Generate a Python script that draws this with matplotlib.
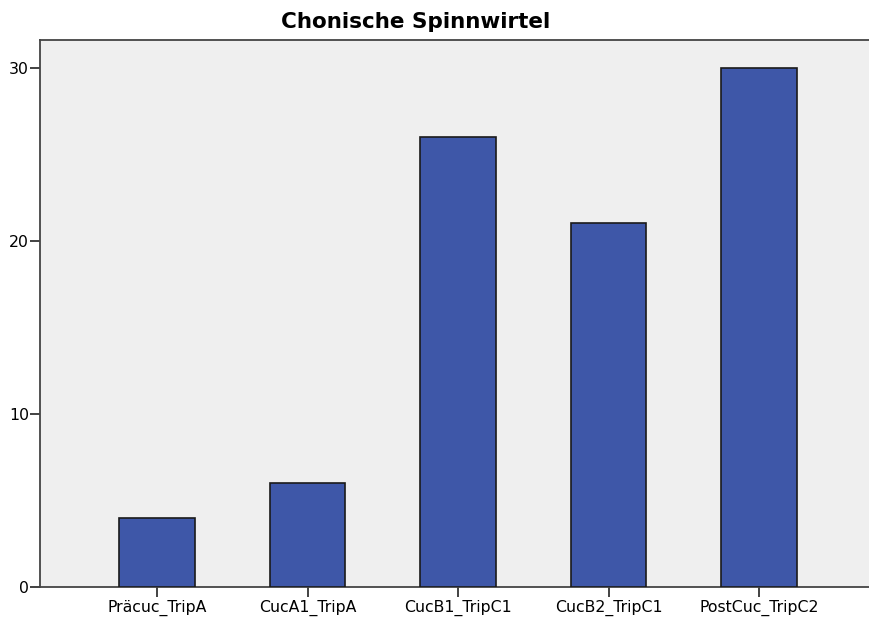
import matplotlib.pyplot as plt
import numpy as np

plt.rcParams['font.family'] = ['DejaVu Sans']

categories = ['Präcuc_TripA', 'CucA1_TripA', 'CucB1_TripC1', 'CucB2_TripC1', 'PostCuc_TripC2']
counts = [4, 6, 26, 21, 30]
y_ticks = [0, 10, 20, 30]

fig = plt.figure(figsize=(8.69, 6.18), dpi=100)
ax = fig.add_axes([40 / 869, 31 / 618, 1 - 40 / 869, (587 - 40) / 618])
ax.set_facecolor('#efefef')

x = np.arange(len(categories))
ax.bar(x, counts, width=0.5, color='#3e57a8', edgecolor='#1a1a1a', linewidth=1.2, zorder=3)

ax.set_xlim(-0.777, 4.73)
ax.set_ylim(0, 31.6)
ax.set_xticks(x)
ax.set_xticklabels(categories, fontsize=11.3)
ax.set_yticks(y_ticks)
ax.set_yticklabels([str(t) for t in y_ticks], fontsize=11.3)
ax.tick_params(length=7, width=1.3, color='#333333', pad=1)
ax.tick_params(axis='x', pad=2)

for side in ['left', 'bottom', 'top']:
    ax.spines[side].set_color('#444444')
    ax.spines[side].set_linewidth(1.3)
ax.spines['right'].set_visible(False)

fig.text(416 / 869, 1 - 22 / 618, 'Chonische Spinnwirtel', ha='center', va='center',
         fontsize=15.5, fontweight='bold')

fig.savefig('out.png', dpi=100)
